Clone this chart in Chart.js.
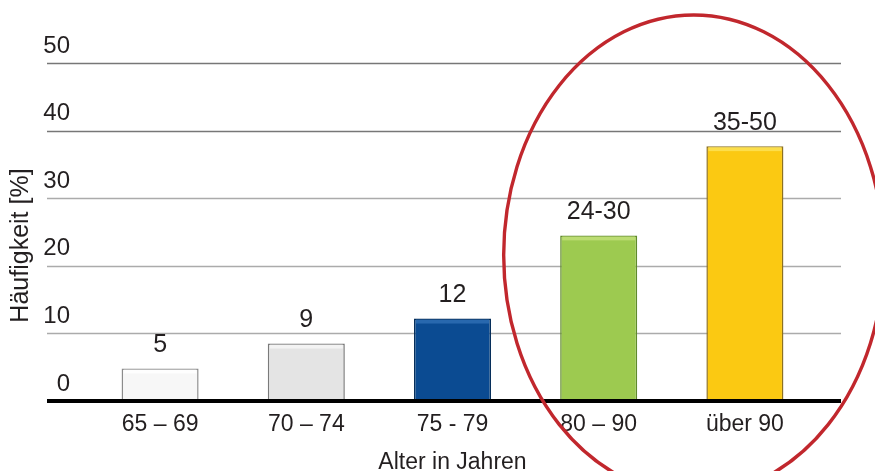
<!DOCTYPE html>
<html lang="de">
<head>
  <meta charset="UTF-8" />
  <title>Häufigkeit nach Alter</title>
  <script src="https://cdn.jsdelivr.net/npm/chart.js"></script>
  <style>
    html, body { margin: 0; padding: 0; background: #fff; }
    #wrap { width: 875px; height: 471px; }
  </style>
</head>
<body>
  <div id="wrap"><canvas id="chart" width="875" height="471"></canvas></div>

  <script>
    // data
    const ageGroups = ["65 – 69", "70 – 74", "75 - 79", "80 – 90", "über 90"];
    const frequency = [4.8, 8.5, 12.2, 24.5, 37.7];
    const valueLabels = ["5", "9", "12", "24-30", "35-50"];
    const yTicks = [0, 10, 20, 30, 40, 50];

    const baseColors = ["#f7f7f7", "#e4e4e4", "#0b4b92", "#9dca50", "#fbc912"];
    const edgeColors = ["#8c8c8c", "#7a7a7a", "#062e5a", "#5f8a2c", "#8d7122"];
    const lightColors = ["#ffffff", "#f6f6f6", "#2f6fb5", "#c3e07a", "#fde45a"];

    const FONT = "'Liberation Sans', Arial, sans-serif";
    const TEXT = "#231f20";

    function barFill(context) {
      const i = context.dataIndex;
      const el = context.element;
      if (!el || el.x === undefined || isNaN(el.x)) return baseColors[i];
      const { ctx } = context.chart;
      const half = el.width / 2;
      const g = ctx.createLinearGradient(el.x - half, 0, el.x + half, 0);
      g.addColorStop(0, lightColors[i]);
      g.addColorStop(0.07, baseColors[i]);
      g.addColorStop(0.9, baseColors[i]);
      g.addColorStop(1, edgeColors[i]);
      return g;
    }

    const decor = {
      id: "decor",
      beforeDatasetsDraw(chart) {
        const { ctx, scales: { x, y } } = chart;
        const left = x.left - 40, right = x.right + 23;
        ctx.save();
        yTicks.forEach(v => {
          if (v === 0) return;
          const py = Math.round(y.getPixelForValue(v)) + 0.5;
          ctx.strokeStyle = v >= 40 ? "#777777" : "#ababab";
          ctx.lineWidth = 1.6;
          ctx.beginPath();
          ctx.moveTo(left, py);
          ctx.lineTo(right, py);
          ctx.stroke();
        });

        // y axis title, sits a bit below the middle of the plot
        ctx.translate(21, y.getPixelForValue(23));
        ctx.rotate(-Math.PI / 2);
        ctx.fillStyle = TEXT;
        ctx.font = "25px " + FONT;
        ctx.textAlign = "center";
        ctx.textBaseline = "middle";
        ctx.fillText("Häufigkeit [%]", 0, 0);
        ctx.restore();
      },
      afterDatasetsDraw(chart) {
        const { ctx, scales: { x, y } } = chart;
        const left = x.left - 40, right = x.right + 23;
        ctx.save();

        // top highlight on each bar
        const meta = chart.getDatasetMeta(0);
        meta.data.forEach((bar, i) => {
          const half = bar.width / 2;
          ctx.fillStyle = lightColors[i];
          ctx.globalAlpha = 0.8;
          ctx.fillRect(bar.x - half + 2, bar.y + 1, bar.width - 4, 4);
          ctx.globalAlpha = 1;
        });

        // baseline
        const py0 = y.getPixelForValue(0);
        ctx.strokeStyle = "#000";
        ctx.lineWidth = 4;
        ctx.beginPath();
        ctx.moveTo(left, py0);
        ctx.lineTo(right, py0);
        ctx.stroke();

        // value labels
        ctx.fillStyle = TEXT;
        ctx.font = "25px " + FONT;
        ctx.textAlign = "center";
        ctx.textBaseline = "middle";
        meta.data.forEach((bar, i) => {
          ctx.fillText(valueLabels[i], bar.x, bar.y - 23);
        });
        ctx.restore();
      },
      afterDraw(chart) {
        const { ctx, scales: { x, y } } = chart;
        // red ellipse around the two oldest groups
        const cx = x.getPixelForValue(3.65);
        const cy = y.getPixelForValue(21.6);
        const rx = 1.3 * (x.width / ageGroups.length);
        const ry = y.getPixelForValue(0) - y.getPixelForValue(35.5);
        ctx.save();
        ctx.strokeStyle = "#c1272d";
        ctx.lineWidth = 3.4;
        ctx.beginPath();
        ctx.ellipse(cx, cy, rx, ry, 0, 0, Math.PI * 2);
        ctx.stroke();
        ctx.restore();
      }
    };

    new Chart(document.getElementById("chart"), {
      type: "bar",
      data: {
        labels: ageGroups,
        datasets: [{
          data: frequency,
          backgroundColor: barFill,
          borderColor: edgeColors,
          borderWidth: 1.5,
          barPercentage: 0.527,
          categoryPercentage: 1
        }]
      },
      options: {
        responsive: false,
        animation: false,
        layout: { padding: { top: 63, right: 57, bottom: 0, left: 0 } },
        plugins: {
          legend: { display: false },
          tooltip: { enabled: false }
        },
        scales: {
          x: {
            grid: { display: false, drawTicks: false },
            border: { display: false },
            ticks: {
              color: TEXT,
              font: { family: FONT, size: 23 },
              padding: 10,
              maxRotation: 0,
              autoSkip: false
            },
            title: {
              display: true,
              text: "Alter in Jahren",
              color: TEXT,
              font: { family: FONT, size: 23, lineHeight: 0.75 },
              padding: 0
            },
            afterFit(scale) { scale.height = 70; }
          },
          y: {
            min: 0,
            max: 50,
            grid: { display: false, drawTicks: false },
            border: { display: false },
            ticks: {
              stepSize: 10,
              color: TEXT,
              font: { family: FONT, size: 24 },
              padding: 17,
              labelOffset: -17
            },
            title: { display: false },
            afterFit(scale) { scale.width = 87; }
          }
        }
      },
      plugins: [decor]
    });
  </script>
</body>
</html>
